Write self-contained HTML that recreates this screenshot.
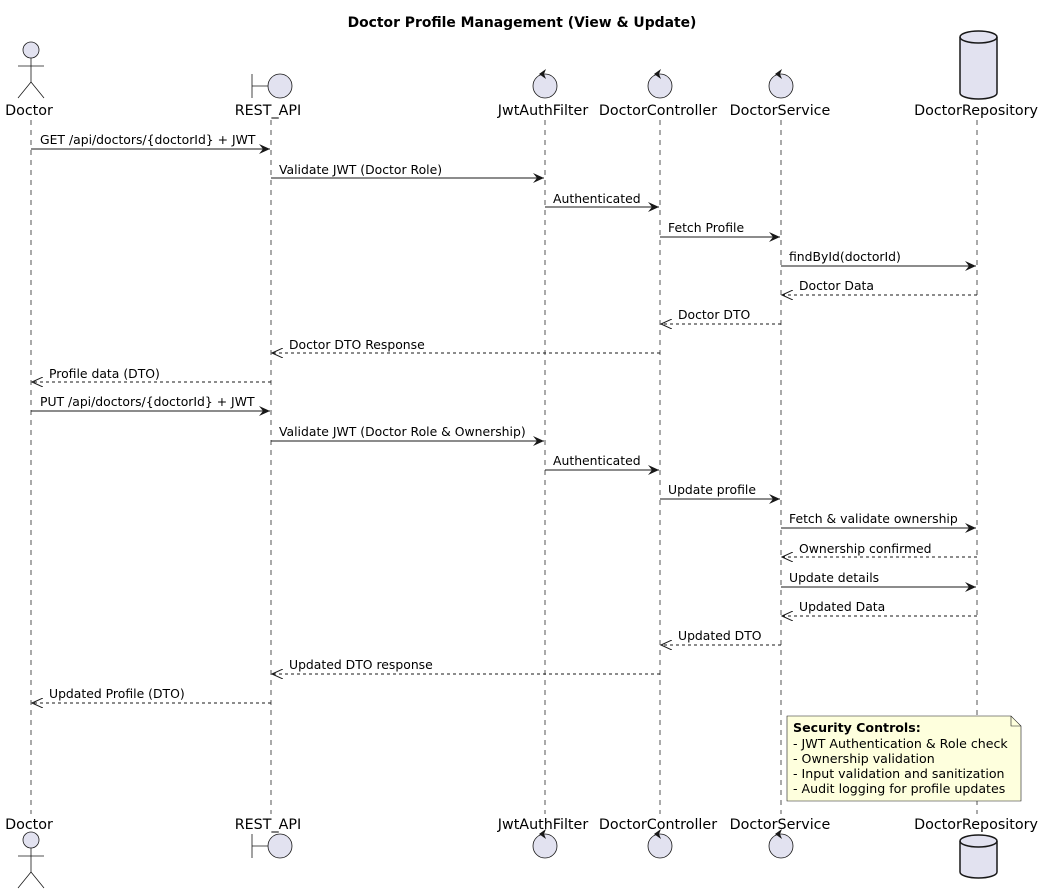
<!DOCTYPE html>
<html><head><meta charset="utf-8"><style>
html,body{margin:0;padding:0;background:#fff;}
svg{display:block;font-family:"DejaVu Sans","Liberation Sans",sans-serif;}
</style></head><body>
<svg width="1041" height="896" viewBox="0 0 1041 896" xmlns="http://www.w3.org/2000/svg">
<defs>
<marker id="a" markerWidth="12" markerHeight="10" refX="11" refY="5" orient="auto" markerUnits="userSpaceOnUse"><path d="M0,0 L11,5 L0,10 L4,5 Z" fill="#181818"/></marker>
<marker id="o" markerWidth="12" markerHeight="10" refX="11" refY="5" orient="auto" markerUnits="userSpaceOnUse"><path d="M0,0 L11,5 L0,10" fill="none" stroke="#181818" stroke-width="1"/></marker>
</defs>
<text x="522" y="27" font-size="13.9" font-weight="bold" text-anchor="middle" fill="#000">Doctor Profile Management (View &amp; Update)</text>
<g stroke="#555" stroke-width="1" stroke-dasharray="5,5">
<line x1="31" y1="120" x2="31" y2="814"/><line x1="271" y1="120" x2="271" y2="814"/><line x1="545" y1="120" x2="545" y2="814"/><line x1="660" y1="120" x2="660" y2="814"/><line x1="781" y1="120" x2="781" y2="814"/><line x1="977" y1="120" x2="977" y2="814"/>
</g>
<g font-size="14.3" fill="#000" text-anchor="middle">
<text x="29" y="115">Doctor</text><text x="268" y="115">REST_API</text><text x="543" y="115">JwtAuthFilter</text><text x="658" y="115">DoctorController</text><text x="780" y="115">DoctorService</text><text x="976" y="115">DoctorRepository</text>
<text x="29" y="829">Doctor</text><text x="268" y="829">REST_API</text><text x="543" y="829">JwtAuthFilter</text><text x="658" y="829">DoctorController</text><text x="780" y="829">DoctorService</text><text x="976" y="829">DoctorRepository</text>
</g>
<g fill="#E2E2F0" stroke="#181818" stroke-width="0.8">
<g><circle cx="31" cy="50" r="8"/><path d="M31,58 V82 M18,66 H44 M31,82 L18,98 M31,82 L44,98" fill="none"/></g>
<g transform="translate(0,790)"><circle cx="31" cy="50" r="8"/><path d="M31,58 V82 M18,66 H44 M31,82 L18,98 M31,82 L44,98" fill="none"/></g>
<circle cx="280" cy="86" r="12"/><path d="M252,74 V98 M252,86 H268" fill="none"/>
<circle cx="280" cy="846" r="12"/><path d="M252,834 V858 M252,846 H268" fill="none"/>
<circle cx="545" cy="86" r="12"/><circle cx="660" cy="86" r="12"/><circle cx="781" cy="86" r="12"/>
<circle cx="545" cy="846" r="12"/><circle cx="660" cy="846" r="12"/><circle cx="781" cy="846" r="12"/>
</g>
<g fill="#181818">
<path d="M539,74 L546,69 L544,74 L546,79 Z"/><path d="M654,74 L661,69 L659,74 L661,79 Z"/><path d="M775,74 L782,69 L780,74 L782,79 Z"/>
<path d="M539,834 L546,829 L544,834 L546,839 Z"/><path d="M654,834 L661,829 L659,834 L661,839 Z"/><path d="M775,834 L782,829 L780,834 L782,839 Z"/>
</g>
<g fill="#E2E2F0" stroke="#181818" stroke-width="1.5">
<path d="M960,37 V93 A18.5,6 0 0 0 997,93 V37 A18.5,6 0 0 0 960,37 Z"/><path d="M960,37 A18.5,6 0 0 0 997,37" fill="none"/>
<path d="M960,841 V872 A18.5,6 0 0 0 997,872 V841 A18.5,6 0 0 0 960,841 Z"/><path d="M960,841 A18.5,6 0 0 0 997,841" fill="none"/>
</g>
<g stroke="#181818" stroke-width="1" fill="none">
<line x1="31" y1="149" x2="270" y2="149" marker-end="url(#a)"/>
<line x1="271" y1="178" x2="544" y2="178" marker-end="url(#a)"/>
<line x1="545" y1="207" x2="659" y2="207" marker-end="url(#a)"/>
<line x1="660" y1="237" x2="780" y2="237" marker-end="url(#a)"/>
<line x1="781" y1="266" x2="976" y2="266" marker-end="url(#a)"/>
<line x1="977" y1="295" x2="782" y2="295" stroke-dasharray="3,3" marker-end="url(#o)"/>
<line x1="781" y1="324" x2="661" y2="324" stroke-dasharray="3,3" marker-end="url(#o)"/>
<line x1="660" y1="353" x2="272" y2="353" stroke-dasharray="3,3" marker-end="url(#o)"/>
<line x1="271" y1="382" x2="32" y2="382" stroke-dasharray="3,3" marker-end="url(#o)"/>
<line x1="31" y1="411" x2="270" y2="411" marker-end="url(#a)"/>
<line x1="271" y1="441" x2="544" y2="441" marker-end="url(#a)"/>
<line x1="545" y1="470" x2="659" y2="470" marker-end="url(#a)"/>
<line x1="660" y1="499" x2="780" y2="499" marker-end="url(#a)"/>
<line x1="781" y1="528" x2="976" y2="528" marker-end="url(#a)"/>
<line x1="977" y1="557" x2="782" y2="557" stroke-dasharray="3,3" marker-end="url(#o)"/>
<line x1="781" y1="587" x2="976" y2="587" marker-end="url(#a)"/>
<line x1="977" y1="616" x2="782" y2="616" stroke-dasharray="3,3" marker-end="url(#o)"/>
<line x1="781" y1="645" x2="661" y2="645" stroke-dasharray="3,3" marker-end="url(#o)"/>
<line x1="660" y1="674" x2="272" y2="674" stroke-dasharray="3,3" marker-end="url(#o)"/>
<line x1="271" y1="703" x2="32" y2="703" stroke-dasharray="3,3" marker-end="url(#o)"/>
</g>
<g font-size="12.4" fill="#000">
<text x="40" y="144">GET /api/doctors/{doctorId} + JWT</text>
<text x="279" y="174">Validate JWT (Doctor Role)</text>
<text x="553" y="203">Authenticated</text>
<text x="668" y="232">Fetch Profile</text>
<text x="789" y="261">findById(doctorId)</text>
<text x="799" y="290">Doctor Data</text>
<text x="678" y="319">Doctor DTO</text>
<text x="289" y="349">Doctor DTO Response</text>
<text x="49" y="378">Profile data (DTO)</text>
<text x="40" y="406">PUT /api/doctors/{doctorId} + JWT</text>
<text x="279" y="436">Validate JWT (Doctor Role &amp; Ownership)</text>
<text x="553" y="465">Authenticated</text>
<text x="668" y="494">Update profile</text>
<text x="789" y="523">Fetch &amp; validate ownership</text>
<text x="799" y="553">Ownership confirmed</text>
<text x="789" y="582">Update details</text>
<text x="799" y="611">Updated Data</text>
<text x="678" y="640">Updated DTO</text>
<text x="289" y="669">Updated DTO response</text>
<text x="49" y="698">Updated Profile (DTO)</text>
</g>
<path d="M787,716 H1011 L1021,726 V801 H787 Z" fill="#FEFFDD" stroke="#181818" stroke-width="0.6"/>
<path d="M1011,716 V726 H1021" fill="none" stroke="#181818" stroke-width="0.6"/>
<g font-size="12.6" fill="#000">
<text x="793" y="732" font-weight="bold">Security Controls:</text>
<text x="793" y="748">- JWT Authentication &amp; Role check</text>
<text x="793" y="763">- Ownership validation</text>
<text x="793" y="778">- Input validation and sanitization</text>
<text x="793" y="793">- Audit logging for profile updates</text>
</g>
</svg>
</body></html>
